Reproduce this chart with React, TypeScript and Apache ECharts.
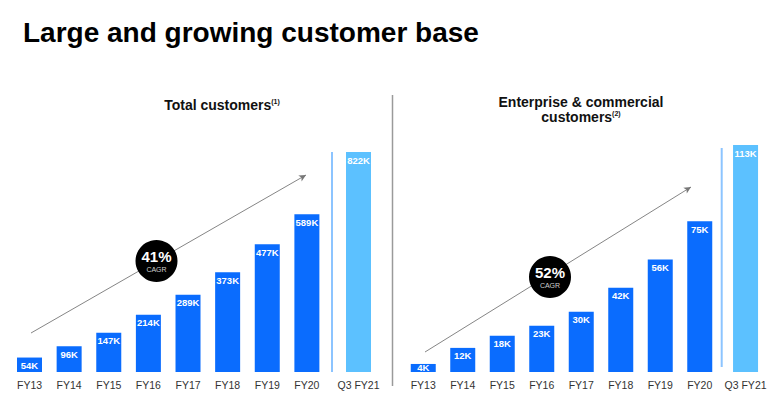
import React, { useEffect, useRef } from "react";
import * as echarts from "echarts";

const fyCategories = ["FY13", "FY14", "FY15", "FY16", "FY17", "FY18", "FY19", "FY20"];
const latestCategory = ["Q3 FY21"];
const totalValues = [54, 96, 147, 214, 289, 373, 477, 589];
const totalLatest = [822];
const enterpriseValues = [4, 12, 18, 23, 30, 42, 56, 75];
const enterpriseLatest = [113];
const totalCagr = "41%";
const enterpriseCagr = "52%";

const BLUE = "#0A6CFE";
const LIGHT = "#5CC1FF";
const FONT = "'Liberation Sans', Arial, Helvetica, sans-serif";

export default function App() {
  const ref = useRef<HTMLDivElement>(null);
  useEffect(() => {
    if (!ref.current) return;
    const chart = echarts.init(ref.current, undefined, { renderer: "svg" });
    const totalMax = Math.max(...totalValues, ...totalLatest);
    const entMax = Math.max(...enterpriseValues, ...enterpriseLatest);

    const catAxis = (gridIndex: number, data: string[]) => ({
      type: "category",
      gridIndex,
      data,
      axisLine: { show: false },
      axisTick: { show: false },
      axisLabel: { color: "#333", fontSize: 10.5, fontFamily: FONT, margin: 7 },
    });
    const valAxis = (gridIndex: number, max: number) => ({
      type: "value",
      gridIndex,
      min: 0,
      max,
      show: false,
      splitLine: { show: false },
    });
    const barLabel = {
      show: true,
      position: "insideTop",
      distance: 3,
      color: "#fff",
      fontSize: 9.5,
      fontWeight: "bold",
      fontFamily: FONT,
      formatter: (p: any) => `${p.value}K`,
    };
    const bars = (idx: number, data: number[], max: number, color: string, markLine?: any) => ({
      type: "bar",
      xAxisIndex: idx,
      yAxisIndex: idx,
      data: data.map((v) =>
        v / max < 0.06 ? { value: v, label: { position: "inside", distance: 0 } } : v
      ),
      barWidth: 25,
      itemStyle: { color },
      label: barLabel,
      markLine,
    });
    const arrow = (x1: number, y1: number, x2: number, y2: number) => ({
      silent: true,
      symbol: ["none", "arrow"],
      symbolSize: [5, 7],
      label: { show: false },
      lineStyle: { color: "#777", width: 0.9, type: "solid" },
      data: [[{ x: x1, y: y1 }, { x: x2, y: y2 }]],
    });
    const badge = (cx: number, cy: number, pct: string) => [
      { type: "circle", shape: { cx, cy, r: 21 }, style: { fill: "#000" }, z: 10 },
      {
        type: "text",
        x: cx,
        y: cy - 5,
        z: 11,
        style: { text: pct, fill: "#fff", font: `bold 15px ${FONT}`, align: "center", verticalAlign: "middle" },
      },
      {
        type: "text",
        x: cx,
        y: cy + 8,
        z: 11,
        style: { text: "CAGR", fill: "#cfcfcf", font: `7px ${FONT}`, align: "center", verticalAlign: "middle" },
      },
    ];
    const titleRich = {
      a: { fontSize: 14, fontWeight: "bold", fontFamily: FONT, fill: "#111" },
      s: { fontSize: 7, fontWeight: "bold", fontFamily: FONT, fill: "#111", verticalAlign: "top" },
    };

    chart.setOption({
      animation: false,
      backgroundColor: "#fff",
      grid: [
        { left: 9.7, width: 317, top: 152, bottom: 26 },
        { left: 338.7, width: 39.6, top: 152, bottom: 26 },
        { left: 403.5, width: 316, top: 145, bottom: 26 },
        { left: 725.8, width: 39.5, top: 145, bottom: 26 },
      ],
      xAxis: [
        catAxis(0, fyCategories),
        catAxis(1, latestCategory),
        catAxis(2, fyCategories),
        catAxis(3, latestCategory),
      ],
      yAxis: [valAxis(0, totalMax), valAxis(1, totalMax), valAxis(2, entMax), valAxis(3, entMax)],
      series: [
        bars(0, totalValues, totalMax, BLUE, arrow(31, 333, 306, 175)),
        bars(1, totalLatest, totalMax, LIGHT),
        bars(2, enterpriseValues, entMax, BLUE, arrow(425, 352, 691, 187)),
        bars(3, enterpriseLatest, entMax, LIGHT),
      ],
      graphic: [
        {
          type: "text",
          x: 23,
          y: 32,
          style: {
            text: "Large and growing customer base",
            fill: "#000",
            font: `bold 28px ${FONT}`,
            verticalAlign: "middle",
          },
        },
        {
          type: "text",
          x: 222,
          y: 105,
          style: { text: "{a|Total customers}{s|(1)}", rich: titleRich, align: "center", verticalAlign: "middle" },
        },
        {
          type: "text",
          x: 581,
          y: 102,
          style: { text: "{a|Enterprise & commercial}", rich: titleRich, align: "center", verticalAlign: "middle" },
        },
        {
          type: "text",
          x: 581,
          y: 116.5,
          style: { text: "{a|customers}{s|(2)}", rich: titleRich, align: "center", verticalAlign: "middle" },
        },
        {
          type: "line",
          shape: { x1: 392.5, y1: 95, x2: 392.5, y2: 386 },
          style: { stroke: "#9a9a9a", lineWidth: 1.5 },
        },
        {
          type: "line",
          shape: { x1: 332, y1: 152, x2: 332, y2: 372 },
          style: { stroke: "#8CC4FF", lineWidth: 2 },
        },
        {
          type: "line",
          shape: { x1: 721.7, y1: 148, x2: 721.7, y2: 367 },
          style: { stroke: "#8CC4FF", lineWidth: 2 },
        },
        ...badge(156.5, 261, totalCagr),
        ...badge(550, 277, enterpriseCagr),
      ],
    });
    return () => chart.dispose();
  }, []);
  return (
    <div
      ref={ref}
      style={{ position: "fixed", left: 0, top: 0, width: 773, height: 398, background: "#fff" }}
    />
  );
}
